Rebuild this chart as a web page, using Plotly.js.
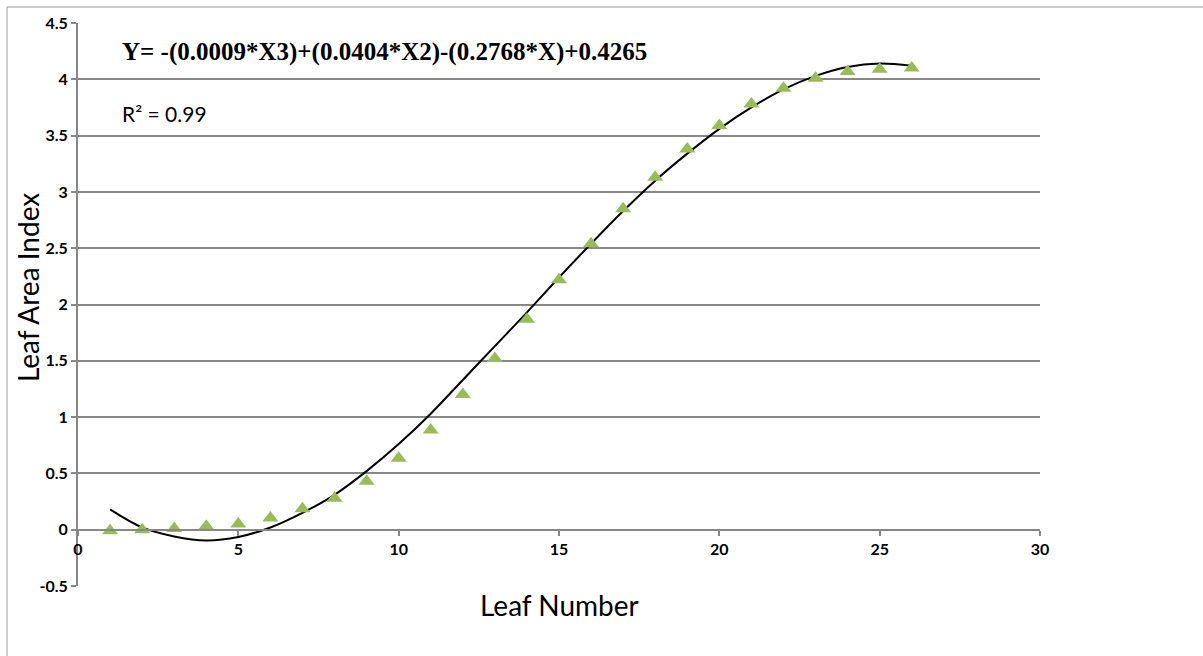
<!DOCTYPE html>
<html>
<head>
<meta charset="utf-8">
<script src="https://cdn.plot.ly/plotly-3.0.1.min.js"></script>
<style>
html,body{margin:0;padding:0;background:#fff;}
#chart{width:1203px;height:656px;}
</style>
</head>
<body>
<div id="chart"></div>
<script>
// Observed data: leaf number vs leaf area index
const leafNumber = [1,2,3,4,5,6,7,8,9,10,11,12,13,14,15,16,17,18,19,20,21,22,23,24,25,26];
const leafAreaIndex = [-0.01,0.0,0.01,0.03,0.05,0.105,0.185,0.28,0.43,0.635,0.885,1.2,1.52,1.87,2.22,2.54,2.85,3.13,3.38,3.59,3.78,3.92,4.01,4.07,4.09,4.10];

// Trend line
const trendX = [1,2,3,4,5,6,7,8,9,10,11,12,13,14,15,16,17,18,19,20,21,22,23,24,25,26];
const trendY = [0.18,0.02,-0.06,-0.095,-0.065,0.02,0.15,0.31,0.52,0.76,1.03,1.33,1.63,1.93,2.24,2.54,2.83,3.10,3.34,3.56,3.75,3.91,4.03,4.11,4.14,4.12];

// Tick labels
const xTickVals = [0,5,10,15,20,25,30];
const xTickText = ['0','5','10','15','20','25','30'];
const yTickVals = [-0.5,0,0.5,1,1.5,2,2.5,3,3.5,4,4.5];
const yTickText = ['-0.5','0','0.5','1','1.5','2','2.5','3','3.5','4','4.5'];

const equationText = 'Y= -(0.0009*X3)+(0.0404*X2)-(0.2768*X)+0.4265';
const r2Text = 'R² = 0.99';
const xTitle = 'Leaf Number';
const yTitle = 'Leaf Area Index';

const gridColor = '#878787';

const traces = [
  {
    x: trendX, y: trendY, type: 'scatter', mode: 'lines',
    line: {color: '#000000', width: 2, shape: 'spline', smoothing: 1},
    hoverinfo: 'skip', showlegend: false
  },
  {
    x: leafNumber, y: leafAreaIndex, type: 'scatter', mode: 'markers',
    marker: {symbol: 'triangle-up', size: 14, color: '#9BBB59', line: {width: 0}},
    showlegend: false
  }
];

const layout = {
  width: 1203, height: 656,
  margin: {l: 78, r: 163, t: 23, b: 70},
  paper_bgcolor: '#ffffff', plot_bgcolor: '#ffffff',
  showlegend: false,
  font: {family: 'Lato, sans-serif', color: '#000000'},
  xaxis: {
    range: [0, 30], tickvals: xTickVals, ticktext: xTickText,
    anchor: 'free', position: 0.1,
    showgrid: false, zeroline: false,
    showline: true, linecolor: gridColor, linewidth: 2,
    ticks: 'outside', ticklen: 5, tickcolor: gridColor, tickwidth: 2,
    tickfont: {family: 'Lato, sans-serif', size: 16, color: '#000', weight: 'bold'},
    fixedrange: true
  },
  yaxis: {
    range: [-0.5, 4.5], tickvals: yTickVals, ticktext: yTickText,
    showgrid: true, gridcolor: gridColor, gridwidth: 2,
    zeroline: false,
    showline: true, linecolor: gridColor, linewidth: 2,
    ticks: 'outside', ticklen: 5, tickcolor: gridColor, tickwidth: 2,
    tickfont: {family: 'Lato, sans-serif', size: 16, color: '#000', weight: 'bold'},
    fixedrange: true
  },
  annotations: [
    {text: equationText, xref: 'paper', yref: 'paper', x: 0.0437, y: 0.9485,
     xanchor: 'left', yanchor: 'middle', showarrow: false,
     font: {family: '"Liberation Serif", "Times New Roman", serif', size: 25, color: '#000', weight: 'bold'}},
    {text: r2Text, xref: 'paper', yref: 'paper', x: 0.0437, y: 0.840,
     xanchor: 'left', yanchor: 'middle', showarrow: false,
     font: {family: 'Lato, sans-serif', size: 21, color: '#000'}},
    {text: xTitle, xref: 'paper', yref: 'paper', x: 0.501, y: -0.0337,
     xanchor: 'center', yanchor: 'middle', showarrow: false,
     font: {family: 'Lato, sans-serif', size: 28, color: '#000'}},
    {text: yTitle, xref: 'paper', yref: 'paper', x: -0.052, y: 0.531,
     xanchor: 'center', yanchor: 'middle', showarrow: false, textangle: -90,
     font: {family: 'Lato, sans-serif', size: 28, color: '#000'}}
  ],
  shapes: [
    {type: 'path', xref: 'paper', yref: 'paper',
     path: 'M -0.0738,-0.2 L -0.0738,1.0284 L 1.3,1.0284',
     line: {color: '#9a9a9a', width: 1}}
  ]
};

Plotly.newPlot('chart', traces, layout, {displayModeBar: false, staticPlot: true});
</script>
</body>
</html>
